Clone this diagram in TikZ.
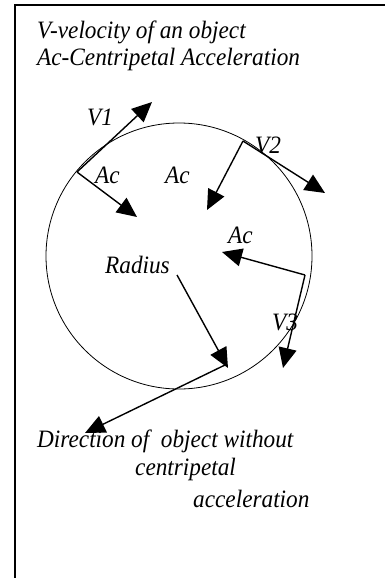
\documentclass[tikz,border=0pt]{standalone}
\usepackage{fontspec}
\setmainfont{Liberation Serif}[FakeStretch=0.93]
\usetikzlibrary{arrows.meta}
\tikzset{
  vec/.style={line width=1.4pt, -{Triangle[length=20pt,width=18pt]}},
  lbl/.style={inner sep=0pt, anchor=base west, font=\fontsize{25}{30}\selectfont\itshape}
}
\begin{document}
\begin{tikzpicture}[x=1pt,y=-1pt]
        \useasboundingbox (0,0) rectangle (385,578);
        \draw[line width=1.3pt] (15,578) -- (15,5) -- (385,5);
        \draw[line width=0.8pt] (179,256) circle (133pt);
        % points on the path
        \coordinate (p1) at (77,172);
        \coordinate (p2) at (243,141);
        \coordinate (p3) at (305,275);
        \coordinate (v1) at (152,102);
        \coordinate (v2) at (325,193);
        \coordinate (v3) at (283,368);
        \coordinate (a1) at (137,217);
        \coordinate (a2) at (207,210);
        \coordinate (a3) at (222,252);
        \coordinate (r0) at (177,275);
        \coordinate (r1) at (228,368);
        \coordinate (d0) at (225,365);
        \coordinate (d1) at (85,433);
        \draw[vec] (p1) -- (v1);
        \draw[vec] (p1) -- (a1);
        \draw[vec] (p2) -- (v2);
        \draw[vec] (p2) -- (a2);
        \draw[vec] (p3) -- (a3);
        \draw[vec] (p3) -- (v3);
        \draw[vec] (r0) -- (r1);
        \draw[vec] (d0) -- (d1);
        \node[lbl] (key1) at (37,38) {V-velocity of an object};
        \node[lbl] (key2) at (37,66) {Ac-Centripetal Acceleration};
        \node[lbl] (lv1) at (87,125) {V1};
        \node[lbl] (lv2) at (255,153) {V2};
        \node[lbl] (lv3) at (272,330) {V3};
        \node[lbl] (la1) at (95,183) {Ac};
        \node[lbl] (la2) at (165,183) {Ac};
        \node[lbl] (la3) at (228,243) {Ac};
        \node[lbl] (lr) at (105,273) {Radius};
        \node[lbl] (dir1) at (37,447) {Direction of\ \ object without};
        \node[lbl] (dir2) at (135,475) {centripetal};
        \node[lbl] (dir3) at (193,507) {acceleration};
    \end{tikzpicture}
\end{document}
